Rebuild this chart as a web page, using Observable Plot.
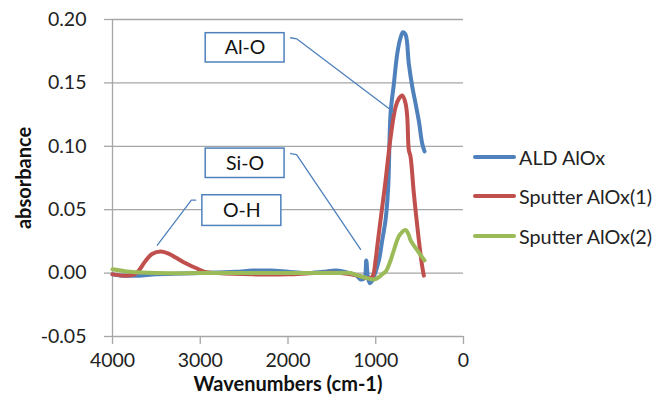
<!DOCTYPE html>
<html>
<head>
<meta charset="utf-8">
<script src="https://cdn.jsdelivr.net/npm/d3@7"></script>
<script src="https://cdn.jsdelivr.net/npm/@observablehq/plot@0.6"></script>
<style>
  html, body { margin: 0; padding: 0; background: #fff; }
  #wrap { position: relative; width: 668px; height: 404px; font-family: Lato, sans-serif; }
  #legend { position: absolute; left: 473px; top: 137px; }
  .item { display: flex; align-items: center; height: 39.5px; font-size: 19.8px; color: #222; }
  .sw { width: 43px; height: 4px; border-radius: 2px; margin-right: 3px; }
</style>
</head>
<body>
<div id="wrap"><div id="legend"></div></div>
<script>
// ---- data ----
const seriesNames = ["ALD AlOx", "Sputter AlOx(1)", "Sputter AlOx(2)"];
const seriesColors = ["#4F81BD", "#C0504D", "#9BBB59"];

const aldWn  = [4000, 3900, 3700, 3500, 3000, 2600, 2400, 2200, 2000, 1800, 1600, 1450, 1300, 1220, 1173, 1130, 1108, 1090, 1067, 1040, 1021, 964, 926, 888, 858, 831, 794, 755, 720, 690, 660, 623, 584, 547, 509, 470, 444];
const aldAbs = [-0.001, -0.002, -0.002, -0.001, 0.000, 0.001, 0.002, 0.002, 0.001, 0.000, 0.001, 0.002, 0.000, -0.002, -0.005, -0.004, 0.010, -0.003, -0.008, -0.006, -0.003, 0.010, 0.026, 0.042, 0.068, 0.126, 0.149, 0.173, 0.185, 0.190, 0.188, 0.165, 0.147, 0.134, 0.120, 0.102, 0.096];

const sp1Wn  = [4000, 3850, 3750, 3700, 3620, 3550, 3450, 3350, 3200, 3050, 2950, 2800, 2400, 2000, 1700, 1400, 1200, 1097, 1040, 1002, 983, 945, 888, 831, 774, 737, 698, 661, 641, 623, 604, 566, 509, 470, 452];
const sp1Abs = [-0.001, -0.002, -0.001, 0.002, 0.010, 0.015, 0.017, 0.015, 0.009, 0.004, 0.001, 0.000, -0.001, -0.001, 0.000, 0.000, -0.002, -0.004, -0.003, 0.010, 0.021, 0.042, 0.073, 0.107, 0.131, 0.1375, 0.140, 0.134, 0.123, 0.097, 0.092, 0.063, 0.026, 0.005, -0.002];

const sp2Wn  = [4000, 3800, 3500, 3000, 2000, 1500, 1300, 1200, 1100, 1021, 960, 911, 888, 831, 794, 737, 698, 661, 623, 604, 527, 444];
const sp2Abs = [0.003, 0.001, 0.000, 0.000, 0.000, 0.000, 0.000, -0.002, -0.004, -0.005, -0.003, 0.000, 0.001, 0.010, 0.018, 0.029, 0.0325, 0.034, 0.030, 0.026, 0.018, 0.010];

const xTicks = [4000, 3000, 2000, 1000, 0];
const yTicks = [-0.05, 0, 0.05, 0.10, 0.15, 0.20];
const xTitle = "Wavenumbers (cm-1)";
const yTitle = "absorbance";

// callouts: label, box corners (wavenumber, absorbance), leader path
const calloutLabels = ["Al-O", "Si-O", "O-H"];
const calloutBoxWn  = [[2938, 2039], [2938, 2039], [2976, 2076]];
const calloutBoxAbs = [[0.1892, 0.1661], [0.0982, 0.0750], [0.0614, 0.0372]];
const leaderWn  = [[1970, 1902, 797], [1970, 1902, 1173], [3052, 3101, 3489]];
const leaderAbs = [[0.1856, 0.1848, 0.127], [0.0943, 0.0935, 0.0187], [0.0575, 0.0575, 0.022]];

// ---- build tables ----
const rows = [];
[[aldWn, aldAbs], [sp1Wn, sp1Abs], [sp2Wn, sp2Abs]].forEach(([w, a], i) => {
  w.forEach((x, j) => rows.push({series: seriesNames[i], wn: x, abs: a[j]}));
});
const boxes = calloutLabels.map((t, i) => ({
  label: t, x1: calloutBoxWn[i][0], x2: calloutBoxWn[i][1], y1: calloutBoxAbs[i][0], y2: calloutBoxAbs[i][1],
  cx: (calloutBoxWn[i][0] + calloutBoxWn[i][1]) / 2, cy: (calloutBoxAbs[i][0] + calloutBoxAbs[i][1]) / 2
}));
const leaders = [];
calloutLabels.forEach((t, i) => leaderWn[i].forEach((x, j) => leaders.push({k: t, wn: x, abs: leaderAbs[i][j]})));

const gridColor = "#a6a6a6";
const chart = Plot.plot({
  width: 668,
  height: 404,
  marginLeft: 112,
  marginRight: 205,
  marginTop: 19,
  marginBottom: 68,
  style: {fontFamily: "Lato, sans-serif", fontSize: "19.5px", color: "#222", background: "white"},
  x: {domain: [4000, 0], ticks: xTicks},
  y: {domain: [-0.05, 0.20], ticks: yTicks},
  color: {domain: seriesNames, range: seriesColors},
  marks: [
    Plot.gridY(yTicks, {stroke: gridColor, strokeOpacity: 1, strokeWidth: 1.3}),
    Plot.ruleX([4000], {stroke: gridColor, strokeWidth: 1.3}),
    Plot.axisY(yTicks, {tickSize: 8, tickPadding: 18, tickFormat: d => d.toFixed(2), label: null, stroke: gridColor, strokeWidth: 1.3, fill: "#222"}),
    Plot.axisX(xTicks, {tickSize: 8, tickPadding: 9, tickFormat: d => String(d), label: null, stroke: gridColor, strokeWidth: 1.3, fill: "#222"}),
    Plot.line(rows, {x: "wn", y: "abs", z: "series", stroke: "series", strokeWidth: 4, curve: "catmull-rom", strokeLinecap: "round", strokeLinejoin: "round"}),
    Plot.line(leaders, {x: "wn", y: "abs", z: "k", stroke: "#4F81BD", strokeWidth: 1.3}),
    Plot.rect(boxes, {x1: "x1", x2: "x2", y1: "y1", y2: "y2", fill: "white", stroke: "#4F81BD", strokeWidth: 1.5}),
    Plot.text(boxes, {x: "cx", y: "cy", text: "label", fill: "#111", fontSize: 19.5}),
    Plot.text([xTitle], {frameAnchor: "bottom", text: d => d, dy: 48, textAnchor: "middle", lineAnchor: "middle", fontWeight: "bold", fontSize: 20, fill: "#111"}),
    Plot.text([yTitle], {frameAnchor: "left", text: d => d, rotate: -90, dx: -88, textAnchor: "middle", lineAnchor: "middle", fontWeight: "bold", fontSize: 20, fill: "#111"})
  ]
});
document.getElementById("wrap").prepend(chart);

const legend = document.getElementById("legend");
seriesNames.forEach((n, i) => {
  const it = document.createElement("div");
  it.className = "item";
  const sw = document.createElement("div");
  sw.className = "sw";
  sw.style.background = seriesColors[i];
  const tx = document.createElement("span");
  tx.textContent = n;
  it.appendChild(sw); it.appendChild(tx);
  legend.appendChild(it);
});
</script>
</body>
</html>
